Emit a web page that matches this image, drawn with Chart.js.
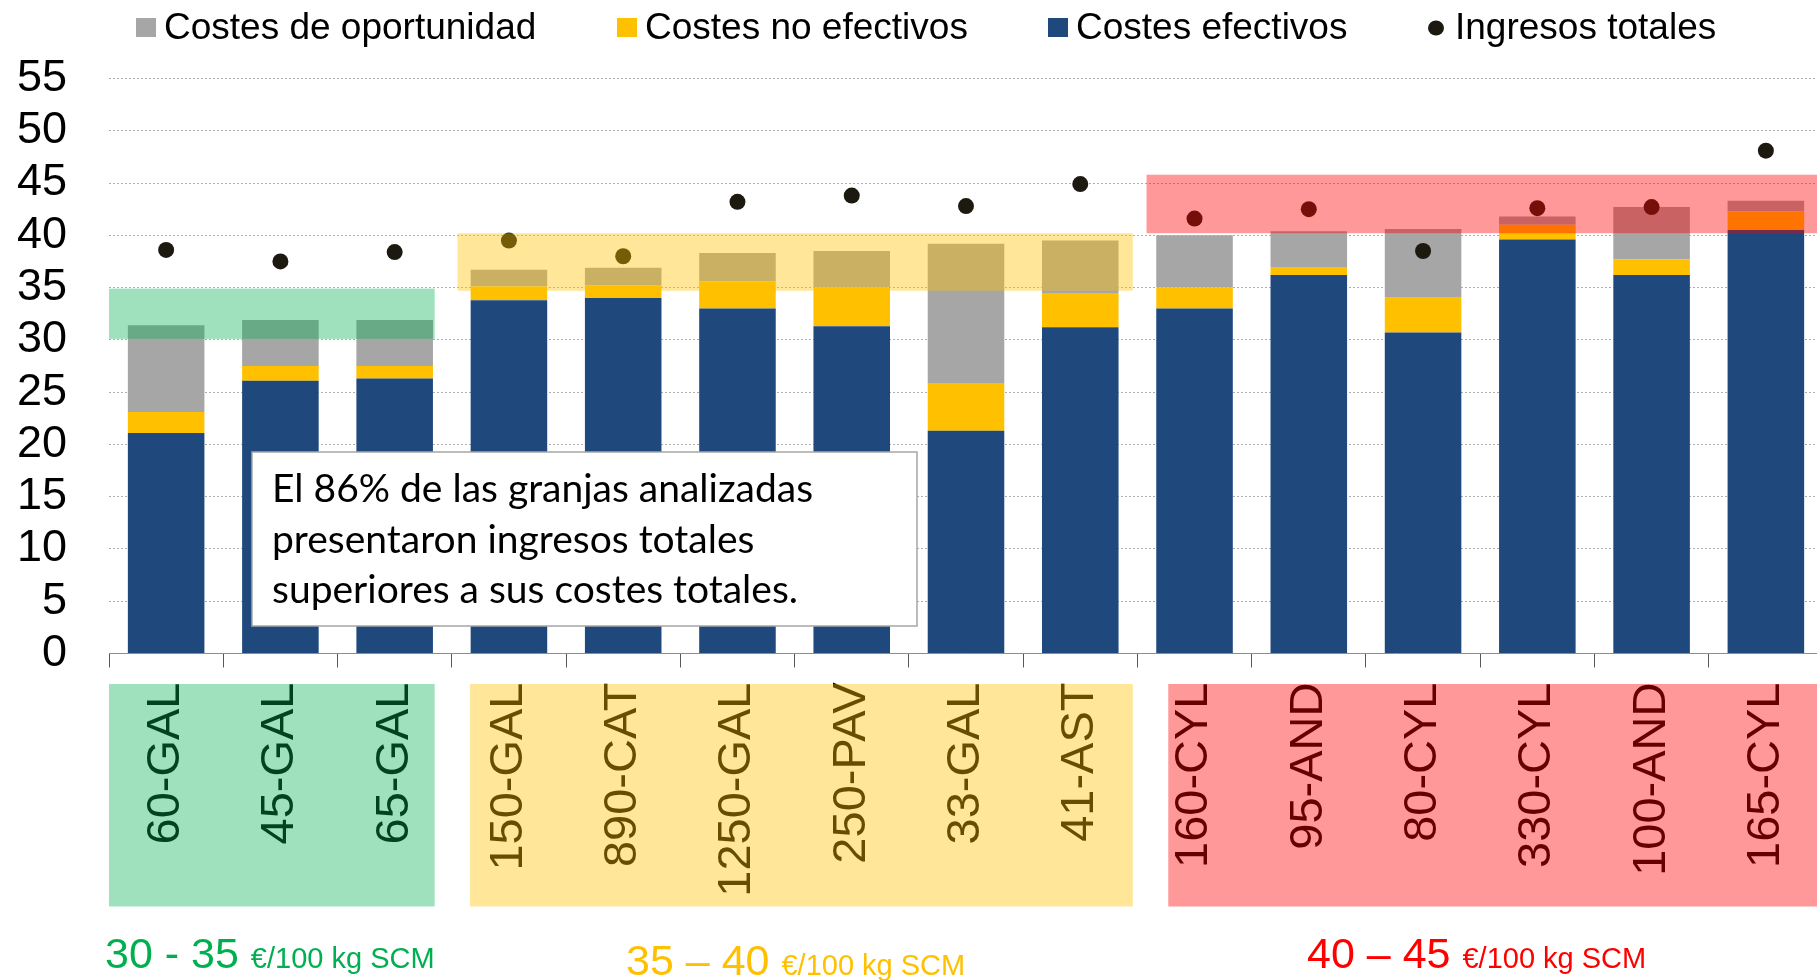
<!DOCTYPE html>
<html>
<head>
<meta charset="utf-8">
<script src="https://cdn.jsdelivr.net/npm/chart.js@4.4.0/dist/chart.umd.min.js"></script>
<style>
  html, body { margin: 0; padding: 0; background: #fff; overflow: hidden; width: 1817px; height: 980px; }
  canvas { display: block; }
</style>
</head>
<body>
<!-- the plot area runs slightly past the right edge of the picture -->
<canvas id="chart" width="1831" height="980"></canvas>
<script>
// data (€/100 kg SCM)
const categories = ['60-GAL', '45-GAL', '65-GAL', '150-GAL', '890-CAT', '1250-GAL', '250-PAV', '33-GAL',
    '41-AST', '160-CYL', '95-AND', '80-CYL', '330-CYL', '100-AND', '165-CYL'];
const costesEfectivos = [21.1, 26.1, 26.3, 33.8, 34.0, 33.0, 31.3, 21.3, 31.2, 33.0, 36.2, 30.7, 39.6, 36.2, 40.5];
const costesNoEfectivos = [2.0, 1.4, 1.2, 1.3, 1.2, 2.6, 3.7, 4.5, 3.2, 2.0, 0.7, 3.4, 1.4, 1.5, 1.8];
const costesOportunidad = [8.3, 4.4, 4.4, 1.6, 1.7, 2.7, 3.5, 13.4, 5.1, 5.0, 3.5, 6.5, 0.8, 5.0, 1.0];
const ingresosTotales = [38.6, 37.5, 38.4, 39.5, 38.0, 43.2, 43.8, 42.8, 44.9, 41.6, 42.5, 38.5, 42.6, 42.7, 48.1];
const yTicks = [0, 5, 10, 15, 20, 25, 30, 35, 40, 45, 50, 55];

// price ranges shaded over the plot (category index range, value range)
const plotBands = [
    { start: -0.5, end: 2.35, from: 30.1, to: 34.9, color: 'rgba(0,176,80,0.38)' },
    { start: 2.55, end: 8.46, from: 34.7, to: 40.2, color: 'rgba(255,192,0,0.40)' },
    { start: 8.58, end: 14.6, from: 40.2, to: 45.8, color: 'rgba(255,0,0,0.40)' }
];
// boxes behind the category labels
const labelBoxes = [
    { start: -0.5, end: 2.35, color: 'rgba(0,176,80,0.38)' },
    { start: 2.66, end: 8.46, color: 'rgba(255,192,0,0.40)' },
    { start: 8.77, end: 14.6, color: 'rgba(255,0,0,0.40)' }
];
const groupCaptions = [
    { range: '30 - 35', unit: '€/100 kg SCM', x: 105, y: 968, color: '#00B050' },
    { range: '35 – 40', unit: '€/100 kg SCM', x: 626, y: 975, color: '#FFC000' },
    { range: '40 – 45', unit: '€/100 kg SCM', x: 1307, y: 968, color: '#FF0000' }
];
const noteLines = ['El 86% de las granjas analizadas', 'presentaron ingresos totales', 'superiores a sus costes totales.'];

const legendItems = [
    { label: 'Costes de oportunidad', color: '#A6A6A6', x: 136, shape: 'square' },
    { label: 'Costes no efectivos', color: '#FFC000', x: 617, shape: 'square' },
    { label: 'Costes efectivos', color: '#1F497D', x: 1048, shape: 'square' },
    { label: 'Ingresos totales', color: '#1C1A10', x: 1428, shape: 'dot' }
];

Chart.defaults.font.family = "'Liberation Sans', Arial, sans-serif";
Chart.defaults.color = '#000';

const overlays = {
    id: 'overlays',
    afterDatasetsDraw(chart) {
        const { ctx, chartArea, scales: { x, y } } = chart;
        const step = x.getPixelForValue(1) - x.getPixelForValue(0);
        const px = i => x.getPixelForValue(0) + i * step;
        ctx.save();
        plotBands.forEach(b => {
            const top = y.getPixelForValue(b.to);
            const bottom = y.getPixelForValue(b.from);
            ctx.fillStyle = b.color;
            ctx.fillRect(px(b.start), top, px(b.end) - px(b.start), bottom - top);
        });
        labelBoxes.forEach(b => {
            ctx.fillStyle = b.color;
            ctx.fillRect(px(b.start), chartArea.bottom + 30.5, px(b.end) - px(b.start), 222.5);
        });
        ctx.restore();
    },
    afterDraw(chart) {
        const ctx = chart.ctx;
        ctx.save();

        // note box
        ctx.fillStyle = '#fff';
        ctx.fillRect(252, 452, 665, 174);
        ctx.strokeStyle = '#A6A6A6';
        ctx.lineWidth = 1.5;
        ctx.strokeRect(252, 452, 665, 174);
        ctx.fillStyle = '#000';
        ctx.font = "39px Lato, 'Open Sans', sans-serif";
        ctx.textBaseline = 'alphabetic';
        noteLines.forEach((t, i) => ctx.fillText(t, 272, 502 + i * 50.5));

        // price range captions
        groupCaptions.forEach(g => {
            ctx.fillStyle = g.color;
            ctx.font = "43px 'Liberation Sans', Arial, sans-serif";
            ctx.fillText(g.range, g.x, g.y);
            const w = ctx.measureText(g.range).width;
            ctx.font = "29px 'Liberation Sans', Arial, sans-serif";
            ctx.fillText(g.unit, g.x + w + 12, g.y);
        });

        // legend
        ctx.font = "37px 'Liberation Sans', Arial, sans-serif";
        legendItems.forEach(it => {
            ctx.fillStyle = it.color;
            if (it.shape === 'square') {
                ctx.fillRect(it.x, 18, 20, 19);
            } else {
                ctx.beginPath();
                ctx.ellipse(it.x + 8, 28, 8, 7.5, 0, 0, Math.PI * 2);
                ctx.fill();
            }
            ctx.fillStyle = '#000';
            ctx.fillText(it.label, it.x + (it.shape === 'square' ? 28 : 27), 39);
        });
        ctx.restore();
    }
};

new Chart(document.getElementById('chart').getContext('2d'), {
    type: 'bar',
    data: {
        labels: categories,
        datasets: [
            {
                label: 'Costes efectivos',
                data: costesEfectivos,
                backgroundColor: '#1F497D',
                stack: 'costes',
                order: 1
            },
            {
                label: 'Costes no efectivos',
                data: costesNoEfectivos,
                backgroundColor: '#FFC000',
                stack: 'costes',
                order: 1
            },
            {
                label: 'Costes de oportunidad',
                data: costesOportunidad,
                backgroundColor: '#A6A6A6',
                stack: 'costes',
                order: 1
            },
            {
                type: 'line',
                label: 'Ingresos totales',
                data: ingresosTotales,
                showLine: false,
                pointRadius: 8,
                pointBorderWidth: 0,
                pointBackgroundColor: '#1C1A10',
                stack: 'ingresos',
                order: 0
            }
        ]
    },
    options: {
        responsive: false,
        animation: false,
        categoryPercentage: 1,
        barPercentage: 0.67,
        layout: {
            padding: { top: 78.5, right: 0, bottom: 0, left: 0 }
        },
        plugins: {
            legend: { display: false },
            tooltip: { enabled: false }
        },
        scales: {
            x: {
                stacked: true,
                afterFit: s => {
                    s.height = 326.5;
                    s.paddingLeft = 0;
                    s.paddingRight = 0;
                },
                border: { display: true, color: '#8C8C8C', width: 1 },
                grid: {
                    offset: true,
                    drawOnChartArea: false,
                    drawTicks: true,
                    tickLength: 14,
                    tickColor: '#595959'
                },
                ticks: {
                    minRotation: 90,
                    maxRotation: 90,
                    autoSkip: false,
                    padding: 15,
                    color: '#000',
                    font: { size: 47 }
                }
            },
            y: {
                stacked: true,
                min: 0,
                max: 55,
                afterFit: s => { s.width = 109; },
                afterBuildTicks: s => { s.ticks = yTicks.map(v => ({ value: v })); },
                border: { display: false, dash: [2, 2] },
                grid: {
                    color: '#ADADAD',
                    lineWidth: 1,
                    drawTicks: false,
                    tickLength: 0
                },
                ticks: {
                    autoSkip: false,
                    padding: 42,
                    color: '#000',
                    font: { size: 45 }
                }
            }
        }
    },
    plugins: [overlays]
});
</script>
</body>
</html>
